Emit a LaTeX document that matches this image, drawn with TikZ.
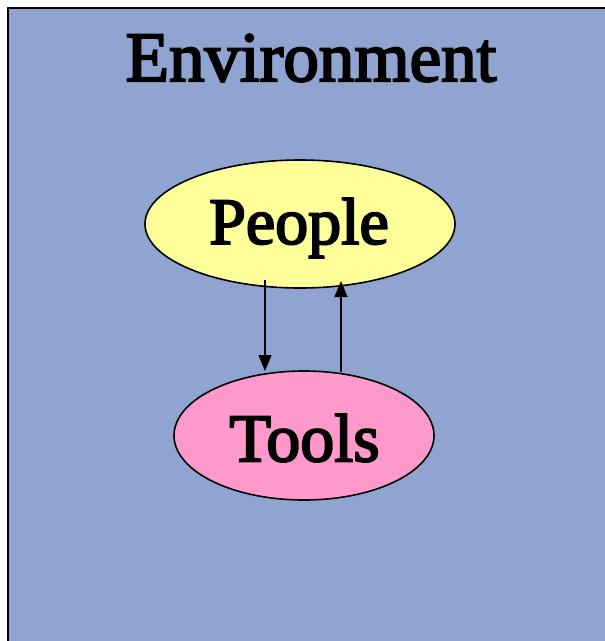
\documentclass[tikz,border=0pt]{standalone}
\usepackage{fontspec}
\setmainfont{Liberation Serif}
\newfontfamily\labelfont{Liberation Serif}[FakeBold=3]
\usetikzlibrary{shapes.geometric,arrows.meta}
\definecolor{envblue}{RGB}{143,164,208}
\definecolor{peopleyellow}{RGB}{255,255,153}
\definecolor{toolspink}{RGB}{255,153,204}
\tikzset{
  blob/.style={ellipse, draw=black, line width=1.6pt, inner sep=0pt},
  flow/.style={line width=1.5pt, -{Triangle[length=16pt,width=13pt]}},
  label/.style={font=\labelfont},
}
\begin{document}
\begin{tikzpicture}[x=1pt,y=-1pt]
\useasboundingbox (0,0) rectangle (605,641);
\clip (0,0) rectangle (605,641);
% surrounding environment box, running off the right and bottom edges
\draw[fill=envblue, draw=black, line width=2.2pt] (8,8) rectangle (640,680);
\node[label] (env) at (311,58) {\fontsize{71}{73}\selectfont Environment};
% the two actors
\node[blob, fill=peopleyellow, minimum width=310pt, minimum height=128pt] (people) at (300,224) {};
\node[label] at (299,228) {\fontsize{66}{68}\selectfont People};
\node[blob, fill=toolspink, minimum width=260pt, minimum height=129pt] (tools) at (304,435.5) {};
\node[label] at (304.5,438) {\fontsize{68}{70}\selectfont Tools};
% exchange between them
\coordinate (down0) at (265,280);
\coordinate (up0) at (341,372);
\draw[flow] (down0) -- (265,371);
\draw[flow] (up0) -- (341,281);
\end{tikzpicture}
\end{document}
